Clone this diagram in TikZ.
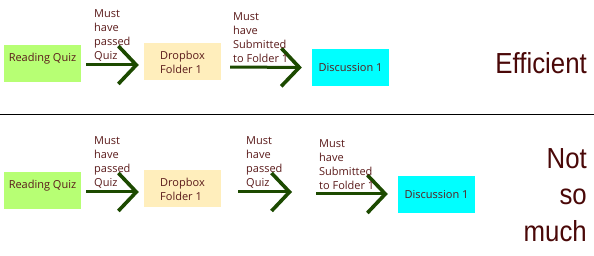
\documentclass[tikz,border=0pt]{standalone}
\usepackage{fontspec}
\setmainfont{Open Sans}
\newfontfamily\bigfont[FakeStretch=0.89]{Liberation Sans}
\usetikzlibrary{arrows.meta}
\definecolor{quizgreen}{HTML}{B7FF74}
\definecolor{dropcream}{HTML}{FFEEBC}
\definecolor{disccyan}{HTML}{00FFFF}
\definecolor{txtred}{HTML}{5A1A1A}
\definecolor{bigred}{HTML}{4A0808}
\definecolor{arrgreen}{HTML}{1C4A00}
\tikzset{
  box/.style={fill=#1, draw=none, minimum width=77pt, minimum height=37pt, inner sep=0pt,
              font=\fontsize{11}{14}\selectfont, text=txtred, align=left},
  lbl/.style={anchor=north west, inner sep=0pt, align=left, text=txtred,
              font=\fontsize{11}{14}\selectfont},
  big/.style={inner sep=0pt, text=bigred, align=right,
              font=\bigfont\fontsize{29}{36.5}\selectfont},
  arr/.style={draw=arrgreen, line width=3pt,
              -{Straight Barb[length=18pt,width=38pt,line width=3.6pt,line cap=butt,line join=miter]}},
}
\begin{document}
\begin{tikzpicture}[x=1pt,y=-1pt]
\useasboundingbox (0,0) rectangle (594,256);
% top row
\node[box=quizgreen, text height=8.4pt, text depth=12pt] (rq1) at (42.5,63.5) {Reading Quiz};
\node[box=dropcream] (db1) at (182.5,62) {Dropbox\\Folder 1};
\node[box=disccyan] (dc1) at (350.5,67.5) {Discussion 1};
\draw[arr, shorten <=5pt, shorten >=5pt] ([yshift=-1.5pt]rq1.east) -- ([yshift=-1.5pt]rq1.east -| db1.west);
\draw[arr, shorten <=9pt, shorten >=10pt] ([yshift=-5pt]db1.east) -- (dc1.west);
\node[lbl] (t1) at (94,9.5) {Must\\have\\passed\\Quiz};
\node[lbl] (t2) at (233,12.5) {Must\\have\\Submitted\\to Folder 1};
\node[big, anchor=base east] (eff) at (587,74) {Efficient};
% separator
\draw[line width=1pt] (0,115) coordinate (sepL) -- (594,115) coordinate (sepR);
% bottom row
\node[box=quizgreen, text height=8.4pt, text depth=12pt] (rq2) at (42.5,190.5) {Reading Quiz};
\node[box=dropcream] (db2) at (182.5,189) {Dropbox\\Folder 1};
\node[box=disccyan] (dc2) at (436.5,194.5) {Discussion 1};
\coordinate (free1) at (292,192);
\coordinate (free2) at (316,194);
\draw[arr, shorten <=5pt, shorten >=5pt] ([yshift=-1.5pt]rq2.east) -- ([yshift=-1.5pt]rq2.east -| db2.west);
\draw[arr, shorten <=17pt] (db2.east |- free1) -- (free1);
\draw[arr, shorten >=10pt] (free2) -- (free2 -| dc2.west);
\node[lbl] (t3) at (94,136) {Must\\have\\passed\\Quiz};
\node[lbl] (t4) at (246,136) {Must\\have\\passed\\Quiz};
\node[lbl] (t5) at (319,139.5) {Must\\have\\Submitted\\to Folder 1};
\node[big, anchor=north east] (nsm) at (587,148) {Not\\so\\much};
\end{tikzpicture}
\end{document}
